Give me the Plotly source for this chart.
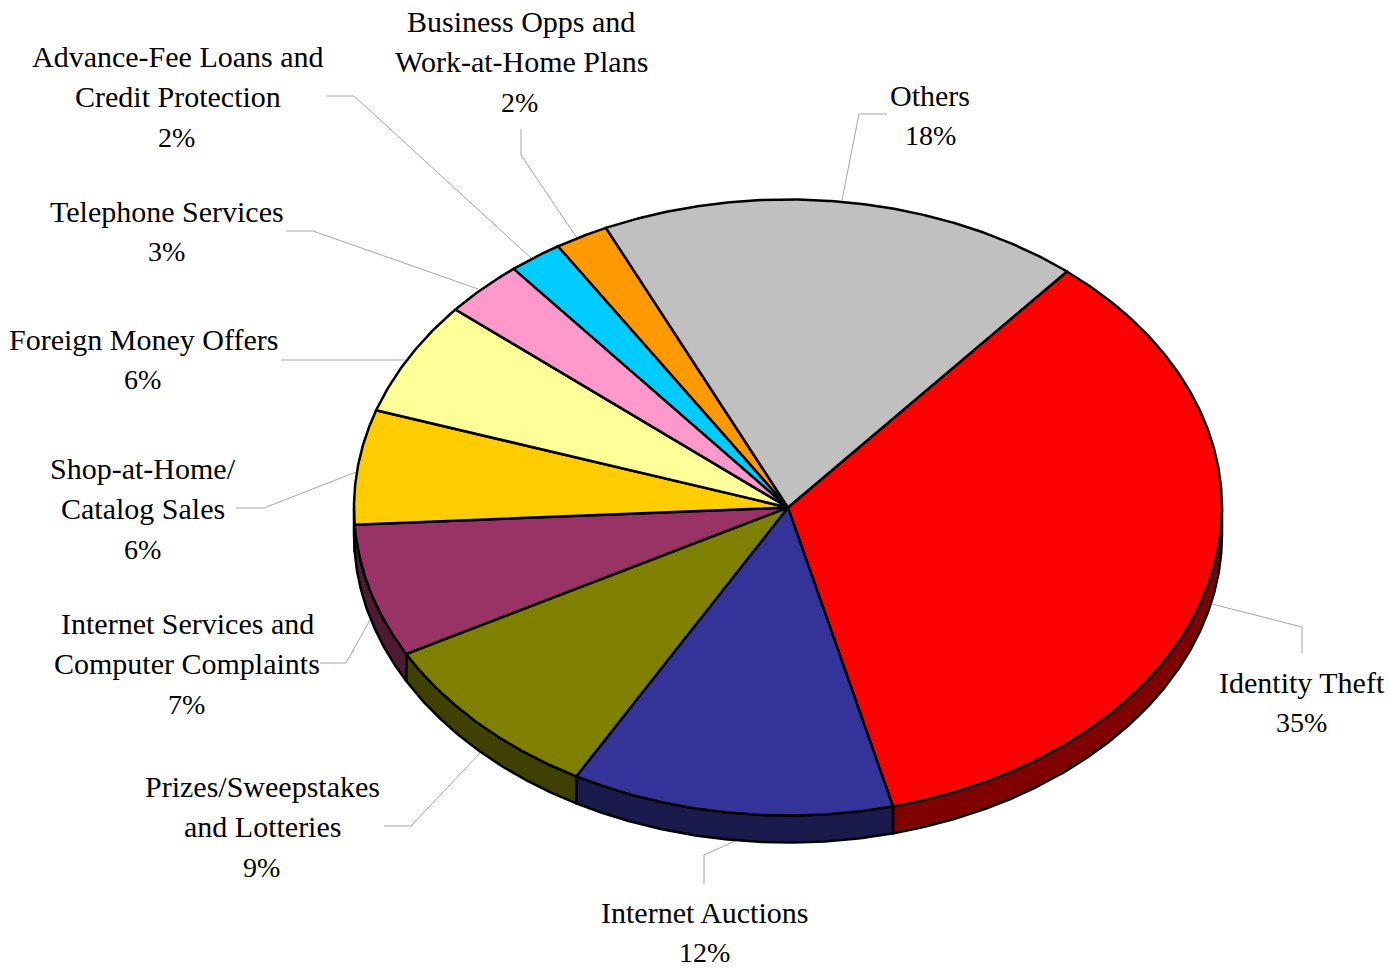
import numpy as np
import plotly.graph_objects as go

# data, clockwise from the Identity Theft slice
categories = ['Identity Theft', 'Internet Auctions', 'Prizes/Sweepstakes<br>and Lotteries',
              'Internet Services and<br>Computer Complaints', 'Shop-at-Home/<br>Catalog Sales',
              'Foreign Money Offers', 'Telephone Services', 'Advance-Fee Loans and<br>Credit Protection',
              'Business Opps and<br>Work-at-Home Plans', 'Others']
values = [35, 12, 9, 7, 6, 6, 3, 2, 2, 18]
top_colors = ['#FF0000', '#333399', '#808000', '#993366', '#FFCC00',
              '#FFFF99', '#FF99CC', '#00CCFF', '#FF9900', '#C0C0C0']
side_colors = ['#800000', '#1A1A4D', '#404000', '#4D1A33', '#806600',
               '#80804D', '#804D66', '#006680', '#804D00', '#606060']

# pie geometry in page pixels
CX, CY = 788, 507.5
RX, RY = 434, 308
DEPTH = 27
START = 40

# label anchors: centre x of text, centre x of percent, y of first line
label_pos = [(1302, 1301, 682), (704, 704, 912), (262, 261, 786), (187, 186, 623), (143, 142, 468),
             (143, 142, 339), (167, 166, 211), (178, 176, 56), (521, 519, 21), (930, 930, 95)]
LINE_H = 40.5

leaders = [[(1212, 604), (1302, 627), (1302, 653)],
           [(737, 840), (704, 855), (704, 884)],
           [(480, 753), (411, 826), (384, 826)],
           [(370, 620), (346, 663), (320, 663)],
           [(356, 472), (264, 508), (236, 508)],
           [(405, 360), (281, 360)],
           [(478, 289), (313, 231), (286, 231)],
           [(531, 258), (354, 96), (327, 96)],
           [(577, 238), (521, 155), (521, 129)],
           [(842, 200), (859, 114), (887, 114)]]


def arc(a0, a1, dy=0):
    t = np.radians(np.linspace(a0, a1, max(2, int(abs(a1 - a0) * 3))))
    return CX + RX * np.sin(t), CY - RY * np.cos(t) + dy


fig = go.Figure()

for pts in leaders:
    fig.add_trace(go.Scatter(x=[p[0] for p in pts], y=[p[1] for p in pts], mode='lines',
                             line=dict(color='#A6A6A6', width=1), hoverinfo='skip', showlegend=False))

# walls first, the tops go over them
angle = START
spans = []
for v in values:
    spans.append((angle, angle + v * 3.6))
    angle += v * 3.6

for (a0, a1), c in zip(spans, side_colors):
    lo, hi = max(a0, 90), min(a1, 270)
    if lo >= hi:
        continue
    x1, y1 = arc(lo, hi)
    x2, y2 = arc(hi, lo, DEPTH)
    fig.add_trace(go.Scatter(x=np.r_[x1, x2, x1[0]], y=np.r_[y1, y2, y1[0]], mode='lines', fill='toself',
                             fillcolor=c, line=dict(color='black', width=2.5), hoverinfo='skip', showlegend=False))

for (a0, a1), c, name, v in zip(spans, top_colors, categories, values):
    x1, y1 = arc(a0, a1)
    fig.add_trace(go.Scatter(x=np.r_[CX, x1, CX], y=np.r_[CY, y1, CY], mode='lines', fill='toself',
                             fillcolor=c, line=dict(color='black', width=2.5), name=name.replace('<br>', ' '),
                             hovertemplate='%{fullData.name}: ' + str(v) + '%<extra></extra>', showlegend=False))

for name, v, (tx, px, ty) in zip(categories, values, label_pos):
    lines = name.split('<br>')
    for i, line in enumerate(lines):
        fig.add_annotation(x=tx, y=ty + i * LINE_H, text=line, showarrow=False, xanchor='center', yanchor='middle')
    fig.add_annotation(x=px, y=ty + len(lines) * LINE_H, text=str(v) + '%', showarrow=False,
                       xanchor='center', yanchor='middle', font=dict(size=28))

fig.update_layout(width=1389, height=968, margin=dict(l=0, r=0, t=0, b=0), paper_bgcolor='white',
                  plot_bgcolor='white', font=dict(family='Liberation Serif', size=30, color='black'),
                  xaxis=dict(range=[0, 1389], visible=False, fixedrange=True),
                  yaxis=dict(range=[968, 0], visible=False, fixedrange=True),
                  showlegend=False)
# the browser's default body margin pushes the figure off the page
fig.write_html('out.html', config={'displayModeBar': False},
               post_script="document.body.style.margin='0';document.documentElement.style.overflow='hidden';")
